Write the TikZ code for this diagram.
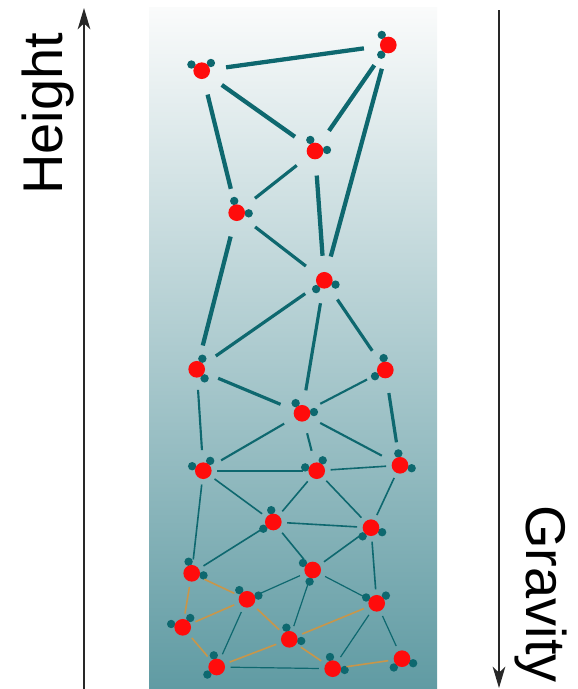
\documentclass[tikz,border=0pt]{standalone}
\usepackage{fontspec}
\setmainfont{Liberation Sans}
\usetikzlibrary{arrows.meta}

\definecolor{bondteal}{RGB}{14,104,111}
\definecolor{hbondorange}{RGB}{200,150,74}
\definecolor{oxred}{RGB}{255,12,12}
\definecolor{columntop}{RGB}{250,251,251}
\definecolor{columnbottom}{RGB}{96,155,163}
\definecolor{axisgray}{RGB}{40,40,40}

\tikzset{
  oxygen/.style={circle,fill=oxred,minimum size=12.5pt,inner sep=0pt},
  hatom/.style={fill=bondteal},
  bondA/.style={draw=bondteal,line width=3.2pt,shorten >=12pt,shorten <=12pt},
  bondB/.style={draw=bondteal,line width=2.4pt,shorten >=11pt,shorten <=11pt},
  bondC/.style={draw=bondteal,line width=1.6pt,shorten >=9pt,shorten <=9pt},
  bondD/.style={draw=bondteal,line width=1.2pt,shorten >=4pt,shorten <=4pt},
  bondE/.style={draw=bondteal,line width=0.9pt,shorten >=4pt,shorten <=4pt},
  hbond/.style={draw=hbondorange,line width=1.2pt,shorten >=4pt,shorten <=4pt},
  axis/.style={draw=axisgray,line width=1pt,-{Stealth[length=16pt,width=9.5pt,inset=4.5pt]}},
  axislabel/.style={inner sep=0pt,anchor=base,font=\fontsize{42}{50}\selectfont}
}

\begin{document}
\begin{tikzpicture}[x=0.75pt,y=0.75pt,yscale=-1,xscale=1]
\useasboundingbox (0,0) rectangle (578,689);

% column of water
\shade[top color=columntop,bottom color=columnbottom] (149,7) rectangle (437,689);

% molecules: number / x / y / angles of the two H atoms
\foreach \n/\x/\y/\p/\q in {
   1/201.7/70.7/211/320,  2/388.3/45/237/126,    3/315/151/247/355,
   4/236.7/212.7/258/3,   5/324.3/280.3/133/21,  6/196.7/369.3/298/49,
   7/385.3/370/262/149,   8/302/413.3/238/354,   9/203.3/470.7/202/305,
  10/316.7/470.7/196/300, 11/400/465.3/262/14,   12/273.3/522/260/146,
  13/371/527.7/134/22,    14/191.7/573.3/255/10, 15/312.7/570/216/105,
  16/247/599.3/230/342,   17/376.7/603.3/209/320, 18/182.7/627.3/196/309,
  19/289.3/639.3/256/8,   20/216.7/667/256/141,  21/332.7/668.7/257/6,
  22/402/658.7/133/22}{
  \fill[hatom] (\x,\y) ++(\p:12) circle[radius=4.2];
  \fill[hatom] (\x,\y) ++(\q:12) circle[radius=4.2];
  \node[oxygen] (m\n) at (\x,\y) {};
}

%Straight Lines
\foreach \a/\b in {1/2,1/3,1/4,2/3,2/5,3/5,4/6}
  \draw[bondA] (m\a) -- (m\b);
\foreach \a/\b in {3/4,4/5,5/6,5/8,5/7,6/8,7/11}
  \draw[bondB] (m\a) -- (m\b);
\foreach \a/\b in {8/7,6/9,8/9,8/10,8/11}
  \draw[bondC] (m\a) -- (m\b);
\foreach \a/\b in {9/10,10/11,9/12,12/10,10/13,11/13,12/13,9/14,14/12,12/15,15/13,13/17}
  \draw[bondD] (m\a) -- (m\b);
\foreach \a/\b in {16/15,15/17,20/16,19/15,20/21,21/17,17/22}
  \draw[bondE] (m\a) -- (m\b);
\foreach \a/\b in {14/16,14/18,18/16,16/19,19/17,18/20,20/19,19/21,21/22}
  \draw[hbond] (m\a) -- (m\b);

% axes
\coordinate (hlo) at (84,689);
\coordinate (hhi) at (84,8);
\coordinate (ghi) at (499,10);
\coordinate (glo) at (499,688);
\draw[axis] (hlo) -- (hhi);
\draw[axis] (ghi) -- (glo);

% Text Node
\node[axislabel,rotate=90] (height) at (62,114) {Height};
% Text Node
\node[axislabel,rotate=-90] (gravity) at (526,594) {Gravity};

\end{tikzpicture}
\end{document}
